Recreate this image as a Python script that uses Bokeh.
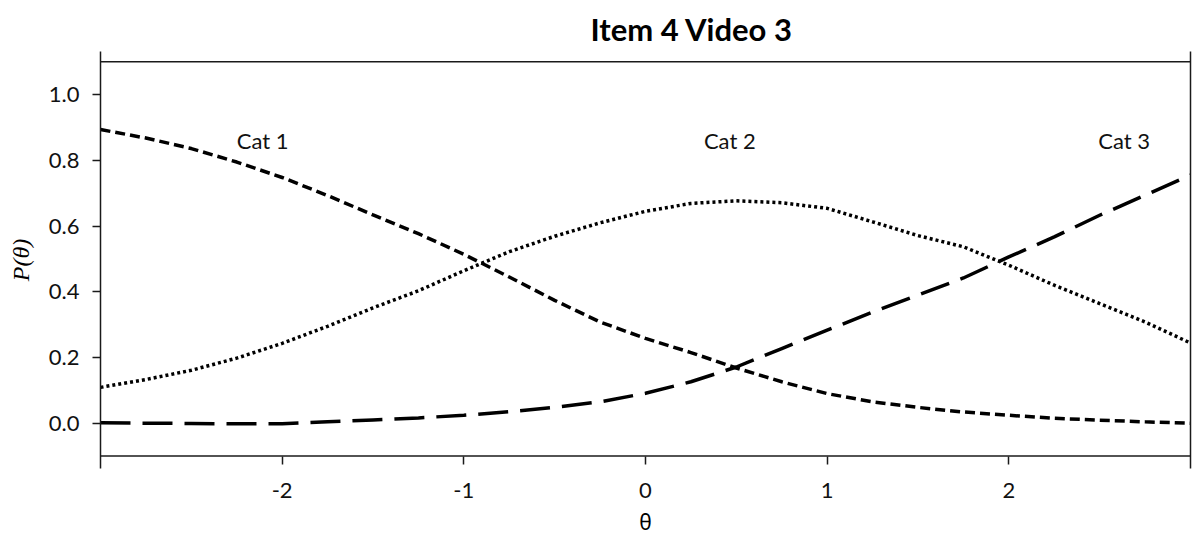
from bokeh.plotting import figure
from bokeh.models import (Range1d, LinearAxis, FixedTicker, PrintfTickFormatter,
                          Span, Title, ColumnDataSource)
from bokeh.core.properties import value
from bokeh.embed import file_html
from bokeh.resources import INLINE

# ---- data ----
theta = [-3.0, -2.75, -2.5, -2.25, -2.0, -1.75, -1.5, -1.25, -1.0, -0.75, -0.5, -0.25,
         0.0, 0.25, 0.5, 0.75, 1.0, 1.25, 1.5, 1.75, 2.0, 2.25, 2.5, 2.75, 3.0]
cat1 = [0.894, 0.868, 0.836, 0.795, 0.748, 0.693, 0.634, 0.577, 0.514, 0.445, 0.374, 0.308,
        0.258, 0.215, 0.168, 0.126, 0.090, 0.065, 0.048, 0.034, 0.024, 0.015, 0.009, 0.004, 0.000]
cat2 = [0.109, 0.133, 0.161, 0.198, 0.243, 0.295, 0.351, 0.403, 0.464, 0.522, 0.569, 0.610,
        0.645, 0.669, 0.677, 0.671, 0.654, 0.613, 0.571, 0.537, 0.481, 0.420, 0.364, 0.308, 0.244]
cat3 = [0.001, 0.000, -0.001, -0.002, -0.002, 0.004, 0.010, 0.016, 0.024, 0.035, 0.048, 0.065,
        0.091, 0.126, 0.171, 0.227, 0.283, 0.338, 0.390, 0.442, 0.506, 0.567, 0.633, 0.694, 0.755]

label_text = ["Cat 1", "Cat 2", "Cat 3"]
label_x = [-2.107, 0.464, 2.635]
label_y = [0.861, 0.861, 0.861]

x_ticks = [-2, -1, 0, 1, 2]
y_ticks = [0.0, 0.2, 0.4, 0.6, 0.8, 1.0]

title_text = "Item 4 Video 3"
x_label = "θ"
y_label = "P(θ)"

FONT = "Lato"
AX = "#1a1a1a"

p = figure(width=1192, height=538, output_backend="svg", toolbar_location=None,
           x_range=Range1d(-3, 3), y_range=Range1d(-0.138, 1.1315),
           x_axis_location=None, y_axis_location=None,
           min_border_left=100, min_border_right=2, min_border_top=51, min_border_bottom=70)
p.outline_line_color = None
p.grid.visible = False
p.background_fill_color = "white"
p.border_fill_color = "white"

# title
t = Title(text=title_text, align="left", offset=490, text_font=FONT,
          text_font_size="31px", text_font_style="bold", text_color="black", standoff=8)
p.add_layout(t, "above")

# horizontal frame lines
for loc in (-0.1, 1.1):
    p.add_layout(Span(location=loc, dimension="width", line_color=AX, line_width=1.5))

# left y axis
ya = LinearAxis(ticker=FixedTicker(ticks=y_ticks), formatter=PrintfTickFormatter(format="%.1f"),
                axis_label=y_label)
ya.axis_line_color = AX
ya.axis_line_width = 1.5
ya.major_tick_line_color = AX
ya.major_tick_line_width = 1.5
ya.major_tick_in = 0
ya.major_tick_out = 8
ya.minor_tick_line_color = None
ya.major_label_text_font = FONT
ya.major_label_text_font_size = "22px"
ya.major_label_text_color = "#111111"
ya.major_label_standoff = 13
ya.axis_label_text_font = "Liberation Serif"
ya.axis_label_text_font_style = "italic"
ya.axis_label_text_font_size = "24px"
ya.axis_label_text_color = "black"
ya.axis_label_standoff = 12
p.add_layout(ya, "left")

# right line (no ticks)
ra = LinearAxis(ticker=FixedTicker(ticks=[]))
ra.axis_line_color = AX
ra.axis_line_width = 1.5
ra.major_tick_line_color = None
ra.minor_tick_line_color = None
ra.major_label_text_font_size = "0px"
p.add_layout(ra, "right")

# bottom x axis
xa = LinearAxis(ticker=FixedTicker(ticks=x_ticks), formatter=PrintfTickFormatter(format="%d"),
                axis_label=x_label)
xa.axis_line_color = None
xa.major_tick_line_color = AX
xa.major_tick_line_width = 1.5
xa.major_tick_in = 12
xa.major_tick_out = -4
xa.minor_tick_line_color = None
xa.major_label_text_font = FONT
xa.major_label_text_font_size = "22px"
xa.major_label_text_color = "#111111"
xa.major_label_standoff = 14
xa.axis_label_text_font = "Noto Sans"
xa.axis_label_text_font_style = "normal"
xa.axis_label_text_font_size = "21px"
xa.axis_label_text_line_height = 0.7
xa.axis_label_text_baseline = "top"
xa.axis_label_text_color = "black"
xa.axis_label_standoff = 7
p.add_layout(xa, "below")

src = ColumnDataSource(dict(theta=theta, cat1=cat1, cat2=cat2, cat3=cat3))
p.line("theta", "cat1", source=src, line_color="black", line_width=3.5, line_dash="10 5")
p.line("theta", "cat2", source=src, line_color="black", line_width=3.5, line_dash="3 3")
p.line("theta", "cat3", source=src, line_color="black", line_width=3.5, line_dash="30 12")

lsrc = ColumnDataSource(dict(x=label_x, y=label_y, t=label_text))
p.text("x", "y", text="t", source=lsrc, text_font=value(FONT), text_font_size="22px",
       text_align="center", text_baseline="middle", text_color="#111111")

open("out.html", "w").write(file_html(p, INLINE))
